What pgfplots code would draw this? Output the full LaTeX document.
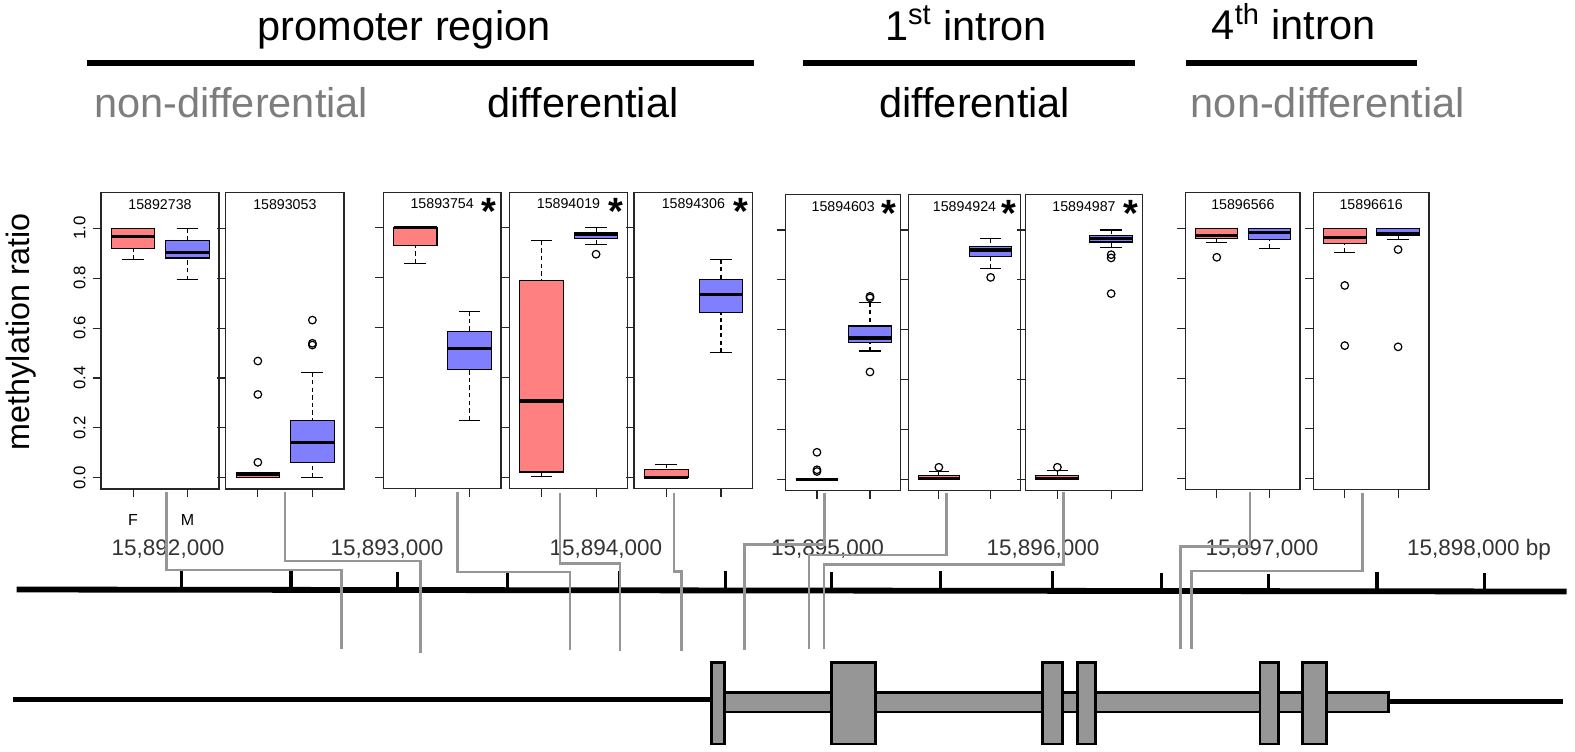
\documentclass[border=0pt]{standalone}
\usepackage{pgfplots}
\pgfplotsset{compat=1.18}
\usepgfplotslibrary{statistics}
\usepackage{fontspec}
\setmainfont{Liberation Sans}
\definecolor{fcol}{RGB}{255,128,128}
\definecolor{mcol}{RGB}{128,128,255}
\definecolor{cgray}{RGB}{150,150,150}
\definecolor{tgray}{RGB}{125,125,125}
\definecolor{exgray}{RGB}{150,150,150}

\pgfplotsset{
  canvas/.style={scale only axis, width=787.5pt, height=375.5pt,
    xmin=0, xmax=1575, ymin=0, ymax=751, y dir=reverse, hide axis,
    clip=false, at={(0pt,0pt)}, anchor=north west, unbounded coords=jump},
  bp/.style={scale only axis, height=148.2pt, anchor=south west,
    xmin=0.41, xmax=2.58, ymin=-0.045, ymax=1.143, clip=false,
    axis line style={line width=0.55pt, black!85},
    tick pos=left, tick align=outside, major tick length=4.2pt,
    tick style={black!85, line width=0.55pt},
    xtick={1,2}, xticklabels={}, ytick={0,0.2,0.4,0.6,0.8,1.0}, yticklabels={},
    boxplot/draw direction=y, boxplot/box extend=0.8, boxplot/whisker extend=0.4,
    boxplot/every median/.style={line width=1.6pt, black},
    boxplot/draw/lower whisker/.code={%
      \draw[black, line width=0.55pt, dash pattern=on 2.2pt off 1.6pt, fill=none]
        (boxplot box cs:\pgfplotsboxplotvalue{lower whisker},0.5) --
        (boxplot box cs:\pgfplotsboxplotvalue{lower quartile},0.5);
      \draw[black, line width=0.55pt, solid, fill=none]
        (boxplot whisker cs:\pgfplotsboxplotvalue{lower whisker},0) --
        (boxplot whisker cs:\pgfplotsboxplotvalue{lower whisker},1);
    },
    boxplot/draw/upper whisker/.code={%
      \draw[black, line width=0.55pt, dash pattern=on 2.2pt off 1.6pt, fill=none]
        (boxplot box cs:\pgfplotsboxplotvalue{upper whisker},0.5) --
        (boxplot box cs:\pgfplotsboxplotvalue{upper quartile},0.5);
      \draw[black, line width=0.55pt, solid, fill=none]
        (boxplot whisker cs:\pgfplotsboxplotvalue{upper whisker},0) --
        (boxplot whisker cs:\pgfplotsboxplotvalue{upper whisker},1);
    },
  },
  bxs/.style={draw=black, line width=0.55pt, mark=o, mark size=1.9pt,
    mark options={solid, draw=black, fill=none, line width=0.6pt}},
}
\newcommand{\bx}[7]{\addplot[bxs, fill=#1, boxplot prepared={draw position=#2,
  lower whisker=#3, lower quartile=#4, median=#5, upper quartile=#6, upper whisker=#7}]}
\newcommand{\ptitle}[1]{\node[anchor=base, inner sep=0pt, font=\fontsize{7.1}{8}\selectfont] at (axis cs:1.495,1.076) {#1};}
\newcommand{\pstar}{\node[anchor=north, inner sep=0pt, font=\fontsize{19}{20}\selectfont\bfseries] at (axis cs:2.36,1.12) {*};}
\newcommand{\gfont}{\fontsize{11.25}{13}\selectfont}
\newcommand{\tfont}{\fontsize{20.75}{24}\selectfont}

\begin{document}
\begin{tikzpicture}
\useasboundingbox (0pt,0pt) rectangle (787.5pt,-375.5pt);

% ---------- canvas: headings, genomic axis, gene model ----------
\begin{axis}[canvas]
\addplot[black, line width=3pt] coordinates {(87,62.7) (754,62.7)};
\addplot[black, line width=3pt] coordinates {(803.3,62.7) (1135,62.7)};
\addplot[black, line width=3pt] coordinates {(1186,63) (1416.7,63)};
% genomic coordinate axis (ticks every 500 bp)
\addplot[black, line width=2.9pt] coordinates {(16.7,589.5) (1566.7,591.5)};
\addplot[black, line width=1.7pt] coordinates {
 (181.7,571) (181.7,590) (181.7,nan)
 (291,571) (291,590) (291,nan)
 (397.3,572) (397.3,590) (397.3,nan)
 (507.3,571) (507.3,590) (507.3,nan)
 (619.3,571) (619.3,590) (619.3,nan)
 (725.3,571) (725.3,590) (725.3,nan)
 (831.7,572) (831.7,590) (831.7,nan)
 (940.7,571) (940.7,590) (940.7,nan)
 (1052.7,571) (1052.7,591) (1052.7,nan)
 (1161.7,573) (1161.7,591) (1161.7,nan)
 (1268.3,574) (1268.3,591) (1268.3,nan)
 (1377,572) (1377,591) (1377,nan)
 (1484.3,573) (1484.3,591)};
% gene model
\addplot[black, line width=2.9pt] coordinates {(13.3,699.5) (712,699.5)};
\addplot[black, line width=2.3pt] coordinates {(1388,701.5) (1563.3,701.5)};
\addplot[fill=exgray, draw=black, line width=1.4pt] coordinates {(724.3,692.3) (1388.3,692.3) (1388.3,712) (724.3,712)} --cycle;
\addplot[fill=exgray, draw=black, line width=1.4pt] coordinates {(711.7,662.5) (724.3,662.5) (724.3,744) (711.7,744)} --cycle;
\addplot[fill=exgray, draw=black, line width=1.4pt] coordinates {(831.7,662.5) (875.7,662.5) (875.7,744) (831.7,744)} --cycle;
\addplot[fill=exgray, draw=black, line width=1.4pt] coordinates {(1042.7,662.5) (1062.7,662.5) (1062.7,744) (1042.7,744)} --cycle;
\addplot[fill=exgray, draw=black, line width=1.4pt] coordinates {(1077.7,662.5) (1095.7,662.5) (1095.7,744) (1077.7,744)} --cycle;
\addplot[fill=exgray, draw=black, line width=1.4pt] coordinates {(1260,662.5) (1278.3,662.5) (1278.3,744) (1260,744)} --cycle;
\addplot[fill=exgray, draw=black, line width=1.4pt] coordinates {(1302.3,662.5) (1326.7,662.5) (1326.7,744) (1302.3,744)} --cycle;
% headings
\node[anchor=base, font=\tfont] at (axis cs:404,40) {promoter region};
\node[anchor=base, font=\tfont] at (axis cs:966,40) {1\textsuperscript{st} intron};
\node[anchor=base, font=\tfont] at (axis cs:1293.5,39.5) {4\textsuperscript{th} intron};
\node[anchor=base, font=\tfont, text=tgray] at (axis cs:231.2,117) {non-differential};
\node[anchor=base, font=\tfont] at (axis cs:583,117) {differential};
\node[anchor=base, font=\tfont] at (axis cs:974.7,117) {differential};
\node[anchor=base, font=\tfont, text=tgray] at (axis cs:1327.8,117) {non-differential};
\node[rotate=90, font=\fontsize{16.15}{18}\selectfont] at (axis cs:21,331.5) {methylation ratio};
% genomic labels
\node[anchor=base, font=\gfont, text=black!80] at (axis cs:168,555) {15,892,000};
\node[anchor=base, font=\gfont, text=black!80] at (axis cs:387,555) {15,893,000};
\node[anchor=base, font=\gfont, text=black!80] at (axis cs:605.8,555) {15,894,000};
\node[anchor=base, font=\gfont, text=black!80] at (axis cs:827.5,555) {15,895,000};
\node[anchor=base, font=\gfont, text=black!80] at (axis cs:1043,555) {15,896,000};
\node[anchor=base, font=\gfont, text=black!80] at (axis cs:1262,555) {15,897,000};
\node[anchor=base west, inner sep=0pt, font=\gfont, text=black!80] at (axis cs:1406.7,555) {15,898,000 bp};
\end{axis}

% ---------- panel 1 ----------
\begin{axis}[bp, at={(50.5pt,-244.5pt)}, width=59pt,
  xticklabels={F,M}, yticklabels={0.0,0.2,0.4,0.6,0.8,1.0},
  xticklabel style={font=\fontsize{8}{9}\selectfont, yshift=-5pt},
  yticklabel style={rotate=90, anchor=south, font=\fontsize{8.4}{9}\selectfont}]
\bx{fcol}{1}{0.876}{0.918}{0.967}{1.0}{1.0} coordinates {};
\bx{mcol}{2}{0.793}{0.881}{0.902}{0.950}{1.0} coordinates {};
\ptitle{15892738}
\end{axis}
% ---------- panel 2 ----------
\begin{axis}[bp, at={(112.85pt,-244.5pt)}, width=59.15pt]
\bx{fcol}{1}{0}{0}{0.012}{0.020}{0.020} table[row sep=\\, y index=0] {v\\ 0.468\\ 0.334\\ 0.062\\};
\bx{mcol}{2}{0}{0.063}{0.142}{0.229}{0.422} table[row sep=\\, y index=0] {v\\ 0.632\\ 0.539\\ 0.532\\};
\ptitle{15893053}
\end{axis}
% ---------- panel 3 ----------
\begin{axis}[bp, at={(191.65pt,-244.25pt)}, width=58.85pt]
\bx{fcol}{1}{0.858}{0.929}{1.0}{1.0}{1.0} coordinates {};
\bx{mcol}{2}{0.229}{0.432}{0.516}{0.583}{0.666} coordinates {};
\ptitle{15893754}\pstar
\end{axis}
% ---------- panel 4 ----------
\begin{axis}[bp, at={(254.65pt,-244.25pt)}, width=59.2pt]
\bx{fcol}{1}{0.003}{0.021}{0.306}{0.789}{0.948} coordinates {};
\bx{mcol}{2}{0.934}{0.957}{0.973}{0.980}{1.0} table[row sep=\\, y index=0] {v\\ 0.894\\};
\ptitle{15894019}\pstar
\end{axis}
% ---------- panel 5 ----------
\begin{axis}[bp, at={(317pt,-244.25pt)}, width=59.35pt]
\bx{fcol}{1}{0}{0}{0}{0.031}{0.053} coordinates {};
\bx{mcol}{2}{0.500}{0.660}{0.734}{0.793}{0.873} coordinates {};
\ptitle{15894306}\pstar
\end{axis}
% ---------- panel 6 ----------
\begin{axis}[bp, at={(392.85pt,-245.35pt)}, width=57.5pt]
\bx{fcol}{1}{0}{0}{0}{0}{0} table[row sep=\\, y index=0] {v\\ 0.109\\ 0.039\\ 0.032\\};
\bx{mcol}{2}{0.515}{0.549}{0.567}{0.615}{0.710} table[row sep=\\, y index=0] {v\\ 0.734\\ 0.728\\ 0.431\\};
\ptitle{15894603}\pstar
\end{axis}
% ---------- panel 7 ----------
\begin{axis}[bp, at={(454.15pt,-245.35pt)}, width=56.2pt]
\bx{fcol}{1}{0}{0}{0.005}{0.015}{0.032} table[row sep=\\, y index=0] {v\\ 0.049\\};
\bx{mcol}{2}{0.846}{0.895}{0.920}{0.935}{0.967} table[row sep=\\, y index=0] {v\\ 0.810\\};
\ptitle{15894924}\pstar
\end{axis}
% ---------- panel 8 ----------
\begin{axis}[bp, at={(512.85pt,-245.35pt)}, width=58.3pt]
\bx{fcol}{1}{0}{0}{0.005}{0.015}{0.035} table[row sep=\\, y index=0] {v\\ 0.049\\};
\bx{mcol}{2}{0.929}{0.952}{0.967}{0.977}{1.0} table[row sep=\\, y index=0] {v\\ 0.901\\ 0.888\\ 0.745\\};
\ptitle{15894987}\pstar
\end{axis}
% ---------- panel 9 ----------
\begin{axis}[bp, at={(592.85pt,-244.65pt)}, width=57.15pt]
\bx{fcol}{1}{0.943}{0.960}{0.973}{1.0}{1.0} table[row sep=\\, y index=0] {v\\ 0.885\\};
\bx{mcol}{2}{0.919}{0.956}{0.985}{1.0}{1.0} coordinates {};
\ptitle{15896566}
\end{axis}
% ---------- panel 10 ----------
\begin{axis}[bp, at={(656.65pt,-244.65pt)}, width=57.85pt]
\bx{fcol}{1}{0.903}{0.939}{0.963}{1.0}{1.0} table[row sep=\\, y index=0] {v\\ 0.772\\ 0.531\\};
\bx{mcol}{2}{0.956}{0.973}{0.981}{1.0}{1.0} table[row sep=\\, y index=0] {v\\ 0.916\\ 0.526\\};
\ptitle{15896616}
\end{axis}

% ---------- connectors from panels to genomic positions ----------
\begin{axis}[canvas]
\addplot[cgray, line width=1.4pt] coordinates {(166.7,492) (166.7,570) (341.7,570) (341.7,649.3)};
\addplot[cgray, line width=1.4pt] coordinates {(285,492) (285,561) (420.7,561) (420.7,652.7)};
\addplot[cgray, line width=1.4pt] coordinates {(457.3,492) (457.3,572) (570,572) (570,650)};
\addplot[cgray, line width=1.4pt] coordinates {(560,493) (560,563.3) (620,563.3) (620,650.7)};
\addplot[cgray, line width=1.4pt] coordinates {(674,493) (674,571.7) (681.7,571.7) (681.7,650.7)};
\addplot[cgray, line width=1.4pt] coordinates {(824.3,493) (824.3,544.3) (744.3,544.3) (744.3,650)};
\addplot[cgray, line width=1.4pt] coordinates {(946.7,493) (946.7,555) (809,555) (809,649.3)};
\addplot[cgray, line width=1.4pt] coordinates {(1063.3,492) (1063.3,564.5) (824,564.5) (824,649.3)};
\addplot[cgray, line width=1.4pt] coordinates {(1250,492) (1250,546.7) (1180.7,546.7) (1180.7,649.3)};
\addplot[cgray, line width=1.4pt] coordinates {(1362.3,493) (1362.3,571) (1191.7,571) (1191.7,649.3)};
\end{axis}
\end{tikzpicture}
\end{document}
